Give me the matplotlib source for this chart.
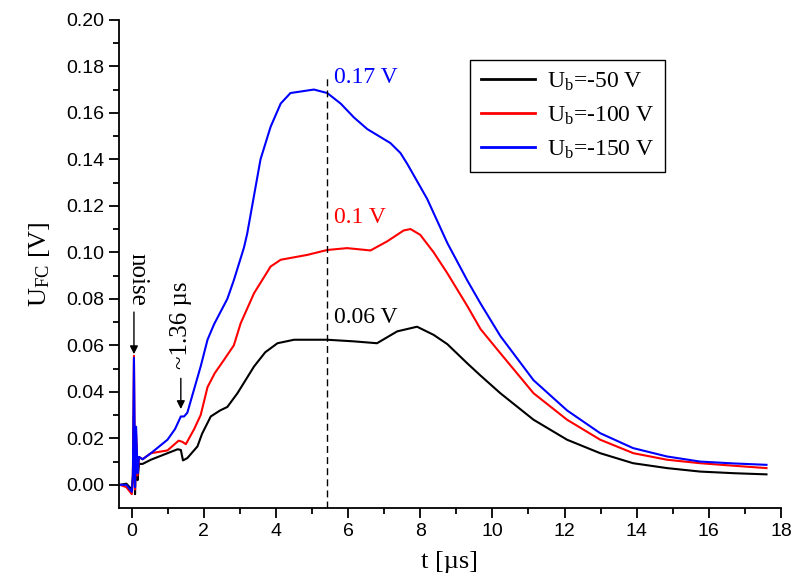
import numpy as np
import matplotlib.pyplot as plt

plt.rcParams['mathtext.fontset'] = 'custom'
plt.rcParams['mathtext.rm'] = 'Liberation Serif'
plt.rcParams['mathtext.it'] = 'Liberation Serif:italic'

# Ub = -50 V
t_50 = [-0.33, -0.15, 0.0, 0.03, 0.06, 0.09, 0.12, 0.16, 0.2, 0.3, 0.53, 0.99, 1.27, 1.36,
        1.42, 1.54, 1.82, 1.95, 2.19, 2.45, 2.65, 2.93, 3.39, 3.7, 4.04, 4.5, 5.42, 6.16,
        6.8, 7.36, 7.91, 8.37, 8.75, 9.3, 9.67, 10.22, 11.14, 12.07, 12.99, 13.9, 14.84,
        15.76, 16.7, 17.6]
u_50 = [0.0, 0.0005, -0.002, 0.004, 0.03, -0.004, 0.018, 0.002, 0.009, 0.009, 0.0108,
        0.0136, 0.0153, 0.015, 0.0105, 0.0115, 0.0165, 0.022, 0.0294, 0.032, 0.0335, 0.0394,
        0.0509, 0.057, 0.0609, 0.0624, 0.0624, 0.0617, 0.0609, 0.066, 0.068, 0.0645, 0.0605,
        0.0523, 0.047, 0.0394, 0.028, 0.0194, 0.0136, 0.0093, 0.0072, 0.0057, 0.005, 0.0045]

# Ub = -100 V
t_100 = [-0.33, -0.15, 0.0, 0.03, 0.06, 0.09, 0.12, 0.16, 0.2, 0.3, 0.53, 0.99, 1.3, 1.4,
         1.5, 1.73, 1.91, 2.1, 2.3, 2.56, 2.83, 3.02, 3.39, 3.85, 4.13, 4.87, 5.42, 5.97,
         6.62, 7.08, 7.54, 7.73, 8.0, 8.37, 8.75, 9.3, 9.67, 10.22, 11.14, 12.07, 12.99,
         13.91, 14.84, 15.76, 16.7, 17.6]
u_100 = [0.0, -0.001, -0.004, 0.002, 0.0555, -0.002, 0.022, 0.004, 0.012, 0.011, 0.0136,
         0.0148, 0.019, 0.0185, 0.0175, 0.024, 0.03, 0.042, 0.048, 0.0538, 0.06, 0.0695,
         0.0824, 0.0939, 0.0968, 0.0989, 0.101, 0.1018, 0.1008, 0.1047, 0.1094, 0.110,
         0.1075, 0.100, 0.091, 0.077, 0.067, 0.0566, 0.0394, 0.028, 0.0194, 0.0136,
         0.0108, 0.0093, 0.0082, 0.0072]

# Ub = -150 V
t_150 = [-0.33, -0.15, 0.0, 0.03, 0.06, 0.09, 0.12, 0.16, 0.2, 0.3, 0.53, 0.99, 1.2, 1.36,
         1.45, 1.54, 1.91, 2.1, 2.28, 2.65, 2.83, 3.11, 3.2, 3.57, 3.85, 4.13, 4.4, 5.05,
         5.42, 5.79, 6.16, 6.53, 7.17, 7.45, 7.64, 8.19, 8.75, 9.3, 9.67, 10.22, 11.14,
         12.07, 12.99, 13.9, 14.84, 15.76, 16.7, 17.6]
u_150 = [0.0, 0.0, -0.003, 0.003, 0.0546, -0.001, 0.025, 0.005, 0.012, 0.011, 0.0136,
         0.0194, 0.024, 0.0294, 0.0294, 0.031, 0.0509, 0.0624, 0.069, 0.080, 0.088, 0.102,
         0.108, 0.140, 0.154, 0.164, 0.1685, 0.170, 0.1685, 0.164, 0.158, 0.153, 0.147,
         0.1427, 0.138, 0.123, 0.104, 0.088, 0.078, 0.064, 0.045, 0.032, 0.0222, 0.0158,
         0.0122, 0.010, 0.0092, 0.0086]

labels = [r'U$_\mathrm{b}$=-50 V', r'U$_\mathrm{b}$=-100 V', r'U$_\mathrm{b}$=-150 V']
colors = ['black', 'red', 'blue']
peak_texts = ['0.06 V', '0.1 V', '0.17 V']
peak_text_y = [0.0718, 0.1148, 0.175]
peak_t = 5.42
peak_line_top = 0.176

fig = plt.figure(figsize=(7.92, 5.82), dpi=100)
ax = fig.add_axes([0.150, 0.127, 0.836, 0.839])

for t, u, lab, c in zip([t_50, t_100, t_150], [u_50, u_100, u_150], labels, colors):
    ax.plot(t, u, color=c, lw=1.5, label=lab)

ax.vlines(peak_t, -0.01, peak_line_top, colors='black', linestyles=(0, (5, 3)), lw=1)

for txt, y, c in zip(peak_texts, peak_text_y, colors):
    ax.text(peak_t + 0.2, y, txt, color=c, fontsize=17, family='Liberation Serif',
            va='center', ha='left')

# arrows and rotated notes
ax.annotate('', xy=(0.06, 0.055), xytext=(0.06, 0.0755),
            arrowprops=dict(arrowstyle='-|>', color='black', lw=1, mutation_scale=12))
ax.text(0.15, 0.0885, 'noise', rotation=-90, fontsize=18, family='Liberation Serif',
        ha='center', va='center')
ax.annotate('', xy=(1.36, 0.0314), xytext=(1.36, 0.047),
            arrowprops=dict(arrowstyle='-|>', color='black', lw=1, mutation_scale=12))
ax.text(1.36, 0.0685, '~1.36 µs', rotation=90, fontsize=18, family='Liberation Serif',
        ha='center', va='center')

ax.set_xlim(-0.36, 18)
ax.set_ylim(-0.01, 0.20)
ax.set_xticks(np.arange(0, 19, 2))
ax.set_xticks(np.arange(0, 19, 1), minor=True)
ax.set_yticks(np.arange(0, 0.201, 0.02))
ax.set_yticks(np.arange(0, 0.201, 0.01), minor=True)
ax.set_yticklabels(['%.2f' % v for v in np.arange(0, 0.201, 0.02)])
ax.tick_params(which='major', direction='out', length=7, width=1.3,
               labelsize=14, labelfontfamily='Liberation Sans')
ax.tick_params(which='minor', direction='out', length=4, width=1.3)
ax.spines['top'].set_visible(False)
ax.spines['right'].set_visible(False)
ax.spines['left'].set_linewidth(1.3)
ax.spines['bottom'].set_linewidth(1.3)

ax.set_xlabel('t [µs]', fontsize=19, family='Liberation Serif', labelpad=8)
ax.set_ylabel(r'U$_\mathrm{FC}$ [V]', fontsize=19, family='Liberation Serif', labelpad=10)

leg = ax.legend(loc='upper right', bbox_to_anchor=(0.825, 0.918), borderaxespad=0,
                fancybox=False, edgecolor='black',
                prop={'family': 'Liberation Serif', 'size': 17},
                handlelength=2.3, borderpad=0.45, labelspacing=0.5, handletextpad=0.5,
                framealpha=1)
leg.get_frame().set_linewidth(1)
for line in leg.get_lines():
    line.set_linewidth(2)

fig.savefig('out.png', dpi=100)
